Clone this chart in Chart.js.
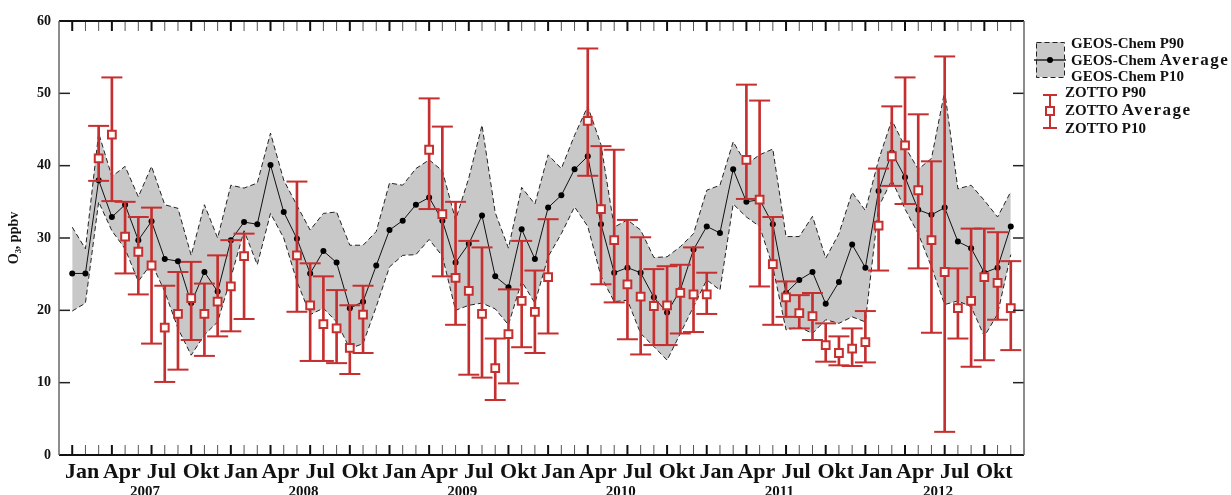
<!DOCTYPE html>
<html>
<head>
<meta charset="utf-8">
<script src="https://cdn.jsdelivr.net/npm/chart.js@4.4.1/dist/chart.umd.min.js"></script>
<style>
    html, body { margin: 0; padding: 0; background: #fff; }
    #wrap { width: 1231px; height: 495px; position: relative; }
</style>
</head>
<body>
<div id="wrap"><canvas id="mainChart"></canvas></div>
<script>
// 1. Dados (índice 0 = Jan 2007 ... 71 = Dez 2012)
const monthLabels = ['Jan', 'Apr', 'Jul', 'Okt'];
const yearLabels = ['2007', '2008', '2009', '2010', '2011', '2012'];

const geosAvg = [
    25.1, 25.1, 38.0, 32.9, 34.6, 29.7, 32.3, 27.1, 26.8, 21.0, 25.3, 22.6,
    29.7, 32.2, 31.9, 40.1, 33.6, 29.9, 25.1, 28.2, 26.6, 20.3, 21.2, 26.2,
    31.1, 32.4, 34.6, 35.6, 32.4, 26.6, 29.2, 33.1, 24.7, 23.2, 31.2, 27.1,
    34.2, 35.9, 39.5, 41.3, 31.9, 25.2, 25.9, 25.2, 21.8, 19.7, 22.8, 28.4,
    31.6, 30.7, 39.5, 35.0, 35.3, 31.9, 22.4, 24.2, 25.3, 20.9, 23.9, 29.1,
    25.9, 36.5, 41.8, 38.4, 33.9, 33.2, 34.2, 29.5, 28.6, 25.2, 25.9, 31.6
];
const geosP90 = [
    31.5, 28.5, 44.5, 38.5, 39.9, 35.7, 39.9, 34.6, 34.1, 27.6, 34.6, 30.0,
    37.3, 36.9, 37.6, 44.5, 38.0, 34.5, 31.1, 33.4, 33.6, 29.0, 29.0, 30.9,
    37.6, 37.3, 39.6, 40.8, 39.3, 32.5, 38.3, 45.6, 33.5, 28.6, 37.0, 34.7,
    41.5, 39.6, 44.2, 48.2, 42.9, 31.5, 32.5, 31.1, 27.3, 27.4, 28.8, 30.6,
    36.6, 37.3, 43.3, 40.2, 41.5, 42.3, 30.2, 30.2, 33.0, 27.2, 30.6, 36.3,
    33.8, 40.8, 46.3, 42.6, 39.5, 41.0, 50.3, 36.8, 37.3, 35.2, 32.9, 36.4
];
const geosP10 = [
    19.9, 21.0, 35.0, 31.0, 28.5, 24.0, 26.5, 22.6, 17.5, 13.8, 16.6, 18.4,
    24.5, 31.0, 26.3, 33.4, 30.0, 24.0, 19.4, 20.3, 18.4, 14.7, 15.4, 20.5,
    26.0, 27.6, 27.7, 29.8, 27.5, 20.0, 20.7, 21.0, 20.2, 18.0, 24.0, 21.0,
    27.4, 30.6, 34.3, 31.6, 24.7, 21.2, 21.4, 16.8, 15.0, 13.1, 16.8, 20.5,
    24.2, 22.8, 34.7, 32.9, 31.6, 26.0, 17.3, 17.7, 16.8, 18.7, 18.2, 19.1,
    18.4, 34.3, 38.0, 34.0, 30.6, 26.0, 20.8, 21.3, 20.5, 16.4, 19.5, 27.7
];

const zottoAvg = [
    null, null, 41.0, 44.3, 30.2, 28.1, 26.2, 17.6, 19.5, 21.7, 19.5, 21.2,
    23.3, 27.5, null, null, null, 27.6, 20.7, 18.1, 17.5, 14.8, 19.4, null,
    null, null, null, 42.2, 33.3, 24.5, 22.7, 19.5, 12.0, 16.7, 21.3, 19.8,
    24.6, null, null, 46.2, 34.0, 29.7, 23.6, 21.9, 20.6, 20.7, 22.4, 22.2,
    22.2, null, null, 40.8, 35.3, 26.4, 21.8, 19.6, 19.2, 15.2, 14.1, 14.7,
    15.6, 31.7, 41.3, 42.8, 36.6, 29.7, 25.3, 20.3, 21.3, 24.6, 23.8, 20.3
];
const zottoP90 = [
    null, null, 45.5, 52.2, 35.0, 32.9, 34.2, 23.4, 25.3, 26.7, 23.7, 27.6,
    29.7, 30.6, null, null, null, 37.8, 26.5, 24.7, 22.8, 20.7, 23.4, null,
    null, null, null, 49.3, 45.4, 35.0, 29.6, 28.7, 16.1, 22.9, 29.6, 25.5,
    32.6, null, null, 56.2, 42.7, 42.2, 32.5, 30.1, 25.7, 26.1, 26.3, 28.7,
    25.2, null, null, 51.2, 49.0, 32.9, 24.0, 22.1, 22.4, 18.2, 16.4, 17.5,
    19.9, 39.6, 48.2, 52.2, 47.1, 40.6, 55.1, 25.8, 31.3, 31.3, 30.8, 26.8
];
const zottoP10 = [
    null, null, 37.9, 35.1, 25.1, 22.2, 15.4, 10.1, 11.8, 15.9, 13.7, 16.4,
    17.1, 18.8, null, null, null, 19.8, 13.0, 13.0, 12.7, 11.2, 14.1, null,
    null, null, null, 34.0, 24.7, 18.0, 11.1, 10.7, 7.6, 9.9, 14.9, 14.1,
    16.8, null, null, 38.6, 23.6, 21.1, 16.0, 13.9, 15.2, 15.2, 16.8, 17.0,
    19.5, null, null, 35.4, 23.3, 18.0, 19.1, 17.5, 15.9, 12.9, 12.4, 12.3,
    12.8, 25.5, 37.2, 34.7, 25.8, 16.9, 3.2, 16.1, 12.2, 13.1, 18.7, 14.5
];

// 2. Estilos
const SERIF = "'Liberation Serif', 'DejaVu Serif', serif";
const RED = '#c62f2f';
const BAND = '#c8c8c8';

// converte uma lista em pontos {x, y}, pulando meses sem dado
function toPoints(list) {
    return list.map((v, i) => ({ x: i, y: v })).filter(p => p.y !== null);
}

// 3. Plugin: moldura, ticks internos, anos e legenda
const framePlugin = {
    id: 'frame',
    afterDraw(chart) {
        const { ctx, chartArea: a, scales: { x, y } } = chart;
        ctx.save();

        const seg = (x1, y1, x2, y2) => {
            ctx.beginPath(); ctx.moveTo(x1, y1); ctx.lineTo(x2, y2); ctx.stroke();
        };

        // ticks mensais (topo e base)
        for (let m = 0; m < geosAvg.length; m++) {
            const px = x.getPixelForValue(m);
            const major = m % 3 === 0;
            ctx.strokeStyle = major ? '#111' : '#555';
            ctx.lineWidth = major ? 2 : 1;
            seg(px, a.bottom, px, a.bottom - 10);
            seg(px, a.top, px, a.top + 10);
        }
        // ticks do eixo y (esquerda e direita)
        ctx.strokeStyle = '#222';
        ctx.lineWidth = 1.5;
        y.ticks.forEach(t => {
            if (t.value <= y.min || t.value >= y.max) return;
            const py = y.getPixelForValue(t.value);
            seg(a.left, py, a.left + 11, py);
            seg(a.right, py, a.right - 11, py);
        });

        // moldura
        ctx.strokeStyle = '#111';
        ctx.lineWidth = 2;
        seg(a.left, a.top, a.right, a.top);
        seg(a.left, a.bottom, a.right, a.bottom);
        ctx.strokeStyle = '#666';
        ctx.lineWidth = 1.5;
        seg(a.left, a.top, a.left, a.bottom);
        seg(a.right, a.top, a.right, a.bottom);

        // anos sob os meses
        ctx.fillStyle = '#111';
        ctx.font = 'bold 15px ' + SERIF;
        ctx.textAlign = 'center';
        ctx.textBaseline = 'alphabetic';
        yearLabels.forEach((yr, k) => {
            ctx.fillText(yr, x.getPixelForValue(12 * k + 5.5), 496);
        });

        // legenda GEOS-Chem
        ctx.fillStyle = BAND;
        ctx.fillRect(1036, 42, 28, 35);
        ctx.strokeStyle = '#222';
        ctx.lineWidth = 1;
        ctx.setLineDash([5, 3]);
        ctx.strokeRect(1036.5, 42.5, 28, 35);
        ctx.setLineDash([]);
        ctx.lineWidth = 1.5;
        seg(1034, 60, 1066, 60);
        ctx.fillStyle = '#000';
        ctx.beginPath(); ctx.arc(1050, 60, 3, 0, Math.PI * 2); ctx.fill();

        ctx.textAlign = 'left';
        ctx.textBaseline = 'middle';
        ctx.fillStyle = '#111';
        ctx.font = 'bold 15px ' + SERIF;
        ctx.fillText('GEOS-Chem P90', 1071, 44);
        ctx.fillText('GEOS-Chem P10', 1071, 77);
        ctx.fillText('GEOS-Chem', 1071, 61);
        const w = ctx.measureText('GEOS-Chem ').width;
        ctx.font = 'bold 17px ' + SERIF;
        ctx.letterSpacing = '1.5px';
        ctx.fillText('Average', 1071 + w, 61);
        ctx.letterSpacing = '0px';

        // legenda ZOTTO
        ctx.strokeStyle = RED;
        ctx.lineWidth = 2;
        seg(1050, 95, 1050, 128);
        seg(1043, 95, 1057, 95);
        seg(1043, 128, 1057, 128);
        ctx.fillStyle = '#fffaf5';
        ctx.fillRect(1046, 107, 8, 8);
        ctx.strokeRect(1046, 107, 8, 8);

        ctx.fillStyle = '#111';
        ctx.font = 'bold 15px ' + SERIF;
        ctx.fillText('ZOTTO P90', 1065, 93);
        ctx.fillText('ZOTTO P10', 1065, 129);
        ctx.fillText('ZOTTO', 1065, 111);
        const wz = ctx.measureText('ZOTTO ').width;
        ctx.font = 'bold 17px ' + SERIF;
        ctx.letterSpacing = '1.5px';
        ctx.fillText('Average', 1065 + wz, 111);
        ctx.letterSpacing = '0px';

        ctx.restore();
    }
};

// 4. Gráfico
function renderChart() {
    const ctx = document.getElementById('mainChart').getContext('2d');

    const capPoints = toPoints(zottoP90).concat(toPoints(zottoP10));
    const barPoints = zottoAvg
        .map((v, i) => ({ x: i, y: [zottoP10[i], zottoP90[i]] }))
        .filter((p, i) => zottoAvg[i] !== null);

    new Chart(ctx, {
        type: 'line',
        data: {
            datasets: [
                {
                    label: 'ZOTTO Average',
                    data: toPoints(zottoAvg),
                    showLine: false,
                    pointStyle: 'rect',
                    pointRadius: 5.5,
                    pointBackgroundColor: '#fffaf5',
                    pointBorderColor: RED,
                    pointBorderWidth: 2,
                    order: 0
                },
                {
                    label: 'ZOTTO P10/P90 caps',
                    data: capPoints,
                    showLine: false,
                    pointStyle: 'line',
                    pointRadius: 10.5,
                    pointBorderColor: RED,
                    pointBorderWidth: 2,
                    order: 1
                },
                {
                    type: 'bar',
                    label: 'ZOTTO P10-P90',
                    data: barPoints,
                    backgroundColor: RED,
                    barThickness: 2,
                    order: 2
                },
                {
                    label: 'GEOS-Chem Average',
                    data: toPoints(geosAvg),
                    borderColor: '#111',
                    borderWidth: 1,
                    pointRadius: 3,
                    pointBackgroundColor: '#000',
                    pointBorderWidth: 0,
                    tension: 0,
                    order: 3
                },
                {
                    label: 'GEOS-Chem P90',
                    data: toPoints(geosP90),
                    borderColor: '#222',
                    borderWidth: 1,
                    borderDash: [5, 3],
                    pointRadius: 0,
                    backgroundColor: BAND,
                    fill: '+1',
                    tension: 0,
                    order: 4
                },
                {
                    label: 'GEOS-Chem P10',
                    data: toPoints(geosP10),
                    borderColor: '#222',
                    borderWidth: 1,
                    borderDash: [5, 3],
                    pointRadius: 0,
                    fill: false,
                    tension: 0,
                    order: 5
                }
            ]
        },
        options: {
            responsive: true,
            maintainAspectRatio: false,
            animation: false,
            events: [],
            layout: { padding: { left: 0, right: 207, top: 21, bottom: 0 } },
            scales: {
                x: {
                    type: 'linear',
                    min: -1,
                    max: 72,
                    offset: false,
                    grid: { display: false, drawTicks: false },
                    border: { display: false },
                    afterFit: (scale) => { scale.height = 40; },
                    ticks: {
                        stepSize: 1,
                        autoSkip: false,
                        maxRotation: 0,
                        labelOffset: 10,
                        padding: 4,
                        color: '#111',
                        font: { family: SERIF, size: 22, weight: 'bold' },
                        callback: (v) => (v >= 0 && v < geosAvg.length && v % 3 === 0)
                            ? monthLabels[(v / 3) % 4] : ''
                    }
                },
                y: {
                    min: 0,
                    max: 60,
                    grid: { display: false, drawTicks: false },
                    border: { display: false },
                    afterFit: (scale) => { scale.width = 59; },
                    ticks: {
                        stepSize: 10,
                        padding: 8,
                        color: '#111',
                        font: { family: SERIF, size: 14, weight: 'bold' }
                    },
                    title: {
                        display: true,
                        text: 'O\u2083, ppbv',
                        color: '#111',
                        padding: { top: 6, bottom: 0 },
                        font: { family: SERIF, size: 14, weight: 'bold' }
                    }
                }
            },
            plugins: {
                legend: { display: false },
                tooltip: { enabled: false },
                filler: { drawTime: 'beforeDatasetsDraw' }
            }
        },
        plugins: [framePlugin]
    });
}

// 5. Inicialização
window.onload = () => {
    renderChart();
};
</script>
</body>
</html>
